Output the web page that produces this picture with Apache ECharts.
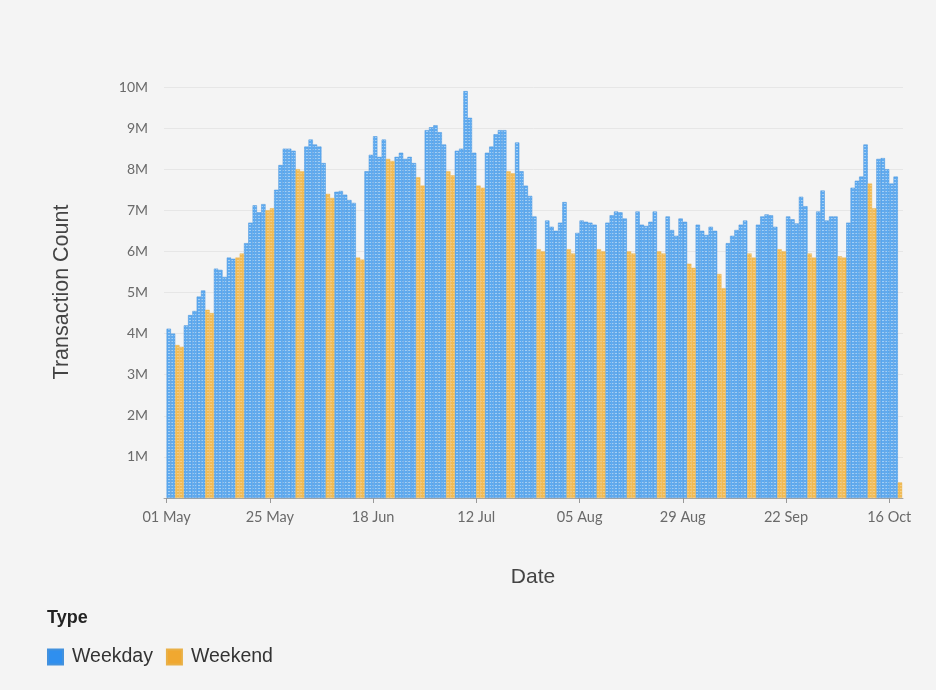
<!DOCTYPE html>
<html>
<head>
<meta charset="utf-8">
<script src="https://cdn.jsdelivr.net/npm/echarts@6/dist/echarts.min.js"></script>
<style>
html,body{margin:0;padding:0;background:#f4f4f4;}
#chart{width:936px;height:690px;}
</style>
</head>
<body>
<div id="chart"></div>
<script>
// ---- data (daily transaction counts, in millions) ----
const startDate = [2025, 4, 1]; // 01 May 2025 (UTC)
const dayValues = [
  4.12, 4.00, 3.72, 3.68,                 // May 1-4
  4.20, 4.45, 4.55, 4.90, 5.05, 4.58, 4.50, // May 5-11
  5.58, 5.55, 5.38, 5.85, 5.82, 5.85, 5.95, // May 12-18
  6.20, 6.70, 7.12, 6.95, 7.15, 7.00, 7.05, // May 19-25
  7.50, 8.10, 8.50, 8.50, 8.45, 8.00, 7.95, // May 26-Jun 1
  8.55, 8.72, 8.60, 8.55, 8.15, 7.40, 7.30, // Jun 2-8
  7.45, 7.47, 7.38, 7.25, 7.18, 5.85, 5.80, // Jun 9-15
  7.95, 8.35, 8.80, 8.30, 8.72, 8.25, 8.20, // Jun 16-22
  8.30, 8.40, 8.25, 8.30, 8.15, 7.80, 7.60, // Jun 23-29
  8.95, 9.02, 9.07, 8.90, 8.60, 7.95, 7.85, // Jun 30-Jul 6
  8.45, 8.50, 9.90, 9.25, 8.40, 7.60, 7.55, // Jul 7-13
  8.40, 8.55, 8.85, 8.95, 8.95, 7.95, 7.90, // Jul 14-20
  8.65, 7.95, 7.60, 7.35, 6.85, 6.05, 6.00, // Jul 21-27
  6.75, 6.60, 6.50, 6.70, 7.20, 6.05, 5.95, // Jul 28-Aug 3
  6.45, 6.75, 6.72, 6.70, 6.65, 6.05, 6.00, // Aug 4-10
  6.70, 6.88, 6.97, 6.95, 6.80, 6.00, 5.95, // Aug 11-17
  6.97, 6.65, 6.62, 6.72, 6.97, 6.00, 5.95, // Aug 18-24
  6.85, 6.52, 6.38, 6.80, 6.72, 5.70, 5.60, // Aug 25-31
  6.65, 6.50, 6.40, 6.60, 6.50, 5.45, 5.10, // Sep 1-7
  6.20, 6.38, 6.52, 6.65, 6.75, 5.95, 5.85, // Sep 8-14
  6.65, 6.85, 6.90, 6.88, 6.60, 6.05, 6.00, // Sep 15-21
  6.85, 6.78, 6.68, 7.33, 7.10, 5.95, 5.85, // Sep 22-28
  6.97, 7.48, 6.75, 6.85, 6.85, 5.88, 5.85, // Sep 29-Oct 5
  6.70, 7.55, 7.72, 7.82, 8.60, 7.65, 7.05, // Oct 6-12
  8.25, 8.27, 8.00, 7.65, 7.82, 0.38        // Oct 13-18
];
const xTickDays = [0, 24, 48, 72, 96, 120, 144, 168];
const xTickLabels = ['01 May', '25 May', '18 Jun', '12 Jul', '05 Aug', '29 Aug', '22 Sep', '16 Oct'];
const yTickValues = [1, 2, 3, 4, 5, 6, 7, 8, 9, 10];
const yTickLabels = ['1M', '2M', '3M', '4M', '5M', '6M', '7M', '8M', '9M', '10M'];
const typeNames = ['Weekday', 'Weekend'];

// ---- build series from data ----
const weekdayData = [], weekendData = [];
dayValues.forEach(function (v, i) {
  const d = new Date(Date.UTC(startDate[0], startDate[1], startDate[2] + i));
  const dow = d.getUTCDay();
  const pt = [i + 0.5, v];
  if (dow === 0 || dow === 6) weekendData.push(pt); else weekdayData.push(pt);
});

function makePattern(base, light) {
  const c = document.createElement('canvas');
  c.width = 3; c.height = 3;
  const g = c.getContext('2d');
  g.fillStyle = base; g.fillRect(0, 0, 3, 3);
  g.fillStyle = light; g.fillRect(0, 2, 2, 1);
  return c;
}
const bluePattern = { image: makePattern('#5fabf0', '#a3cff6'), repeat: 'repeat' };
const orangePattern = { image: makePattern('#f1bb55', '#f5cf86'), repeat: 'repeat' };

const chart = echarts.init(document.getElementById('chart'), null, { renderer: 'canvas' });
const labelFont = 'Lato, "Liberation Sans", sans-serif';
const titleFont = '"Liberation Sans", Arial, sans-serif';
chart.setOption({
  backgroundColor: '#f4f4f4',
  animation: false,
  grid: { left: 164, right: 33, top: 87, bottom: 192, containLabel: false },
  title: {
    text: 'Type', left: 47, top: 609, padding: 0,
    textStyle: { fontSize: 18, fontWeight: 'bold', color: '#222', fontFamily: titleFont }
  },
  legend: {
    left: 47, top: 647, padding: 0, icon: 'rect', itemWidth: 15, itemHeight: 15, itemGap: 13,
    textStyle: { fontSize: 19.5, color: '#333', fontFamily: titleFont, padding: [0, 0, 0, 4] },
    data: [
      { name: typeNames[0], itemStyle: { color: '#2f8fef' } },
      { name: typeNames[1], itemStyle: { color: '#f0a830' } }
    ]
  },
  graphic: [
    { type: 'text', x: 533, y: 577, style: { text: 'Date', fontSize: 21, fill: '#444', fontFamily: titleFont, textAlign: 'center', textVerticalAlign: 'middle' } },
    { type: 'text', x: 62, y: 292, rotation: Math.PI / 2, style: { text: 'Transaction Count', fontSize: 21.5, fill: '#444', fontFamily: titleFont, textAlign: 'center', textVerticalAlign: 'middle' } }
  ],
  xAxis: {
    type: 'value', min: -0.6, max: 171.2,
    axisLine: { show: true, lineStyle: { color: '#a5a5a5', width: 1 } },
    axisTick: { show: true, customValues: xTickDays, length: 5, lineStyle: { color: '#999' } },
    axisLabel: {
      customValues: xTickDays, color: '#6a6a6a', fontSize: 14.5, margin: 12, fontFamily: labelFont,
      formatter: function (v) { const k = xTickDays.indexOf(Math.round(v)); return k >= 0 ? xTickLabels[k] : ''; }
    },
    splitLine: { show: false }
  },
  yAxis: {
    type: 'value', min: 0, max: 10, interval: 1,
    axisLine: { show: false }, axisTick: { show: false },
    axisLabel: {
      color: '#6a6a6a', fontSize: 14, margin: 16, fontFamily: labelFont,
      formatter: function (v) { const k = yTickValues.indexOf(v); return k >= 0 ? yTickLabels[k] : ''; }
    },
    splitLine: { lineStyle: { color: '#e6e6e6', width: 1 } }
  },
  series: [
    {
      name: typeNames[0], type: 'bar', data: weekdayData, barWidth: 4.3, barGap: '-100%',
      itemStyle: { color: bluePattern, borderColor: '#4391dd', borderWidth: 0.5 }
    },
    {
      name: typeNames[1], type: 'bar', data: weekendData, barWidth: 4.3, barGap: '-100%',
      itemStyle: { color: orangePattern, borderColor: '#e9b046', borderWidth: 0.4 }
    }
  ]
});
</script>
</body>
</html>
